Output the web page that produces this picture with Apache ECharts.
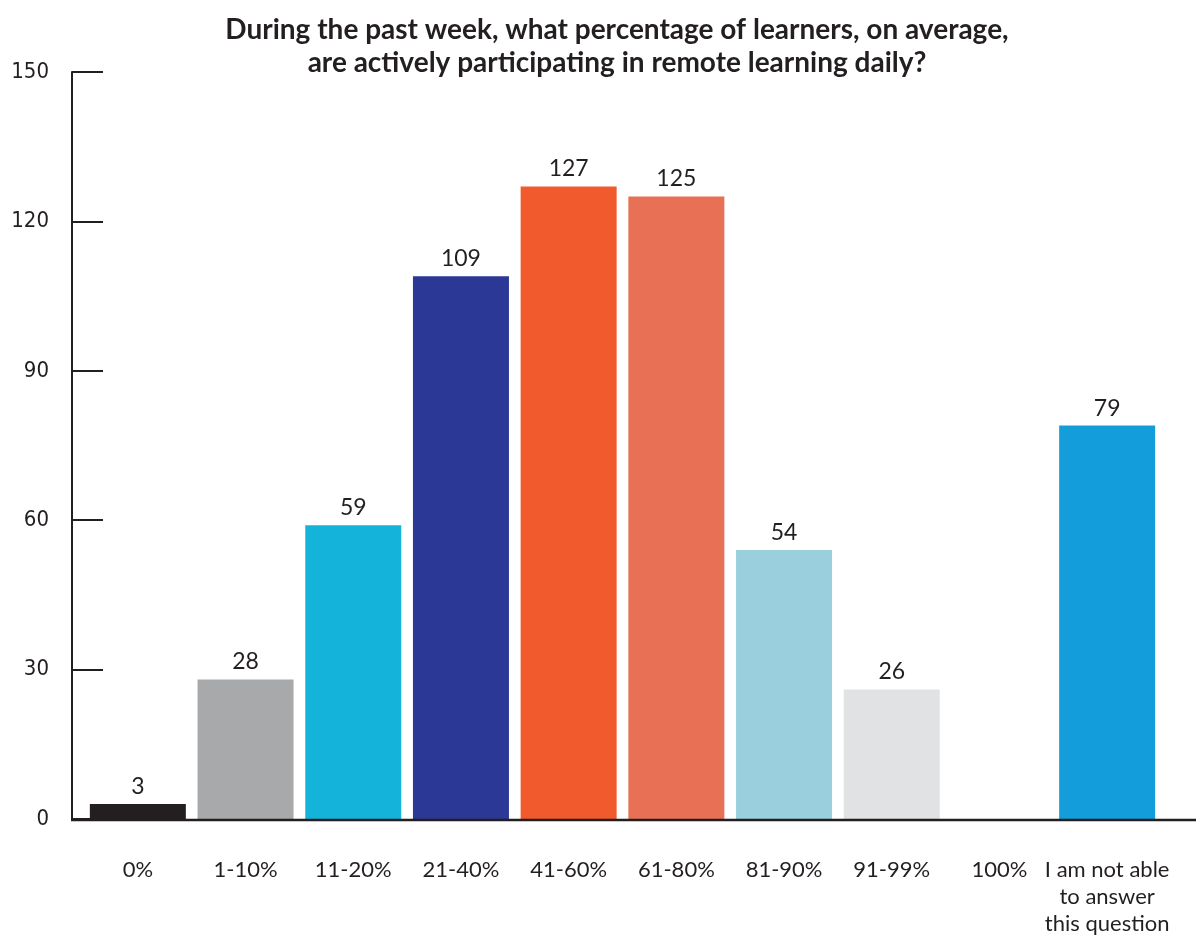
<!DOCTYPE html>
<html>
<head>
<meta charset="utf-8">
<script src="https://cdn.jsdelivr.net/npm/echarts@6/dist/echarts.min.js"></script>
<style>
  html, body { margin: 0; padding: 0; background: #ffffff; }
  #chart { width: 1196px; height: 937px; }
</style>
</head>
<body>
<div id="chart"></div>
<script>
// Survey answers: share of learners actively participating in remote learning
const categories = ['0%', '1-10%', '11-20%', '21-40%', '41-60%', '61-80%', '81-90%', '91-99%', '100%', 'I am not able\nto answer\nthis question'];
const responses = [3, 28, 59, 109, 127, 125, 54, 26, 0, 79];
const barColors = ['#231f20', '#a7a9ab', '#14b4da', '#2b3896', '#f05a2c', '#e87155', '#9acfde', '#e1e2e4', '#e1e2e4', '#139ddb'];
const yTicks = { min: 0, max: 150, interval: 30 };

const chart = echarts.init(document.getElementById('chart'));

chart.setOption({
  animation: false,
  backgroundColor: '#ffffff',
  title: {
    text: 'During the past week, what percentage of learners, on average,\nare actively participating in remote learning daily?',
    left: 612,
    top: 8,
    textAlign: 'center',
    textStyle: {
      fontFamily: 'Lato',
      fontWeight: 'bold',
      fontSize: 28,
      lineHeight: 33,
      color: '#231f20'
    }
  },
  grid: { left: 84, right: 35, top: 72, bottom: 117 },
  xAxis: {
    type: 'category',
    data: categories,
    axisLine: { show: false },
    axisTick: { show: false },
    axisLabel: {
      margin: 51,
      interval: 0,
      fontFamily: 'Lato',
      fontSize: 22,
      lineHeight: 27,
      color: '#231f20',
      verticalAlign: 'top',
      padding: [-14, 0, 0, 0]
    }
  },
  yAxis: {
    type: 'value',
    min: yTicks.min,
    max: yTicks.max,
    interval: yTicks.interval,
    offset: 12,
    splitLine: { show: false },
    axisLine: { show: true, lineStyle: { color: '#231f20', width: 2 } },
    axisTick: { show: true, inside: true, length: 31, lineStyle: { color: '#231f20', width: 2 } },
    axisLabel: {
      margin: 23,
      fontFamily: '"Liberation Sans Narrow", "DejaVu Sans Condensed", Arial',
      fontSize: 22,
      color: '#231f20'
    }
  },
  series: [{
    type: 'bar',
    data: responses.map((v, i) => ({
      value: v,
      itemStyle: { color: barColors[i] },
      label: { show: v > 0 }
    })),
    barWidth: 96,
    label: {
      show: true,
      position: 'top',
      distance: 6,
      fontFamily: 'Lato',
      fontSize: 23,
      color: '#231f20'
    }
  }],
  graphic: [{
    // baseline running the full width below the bars
    type: 'line',
    z: 10,
    shape: { x1: 71, y1: 820, x2: 1196, y2: 820 },
    style: { stroke: '#231f20', lineWidth: 2.5 }
  }]
});
</script>
</body>
</html>
